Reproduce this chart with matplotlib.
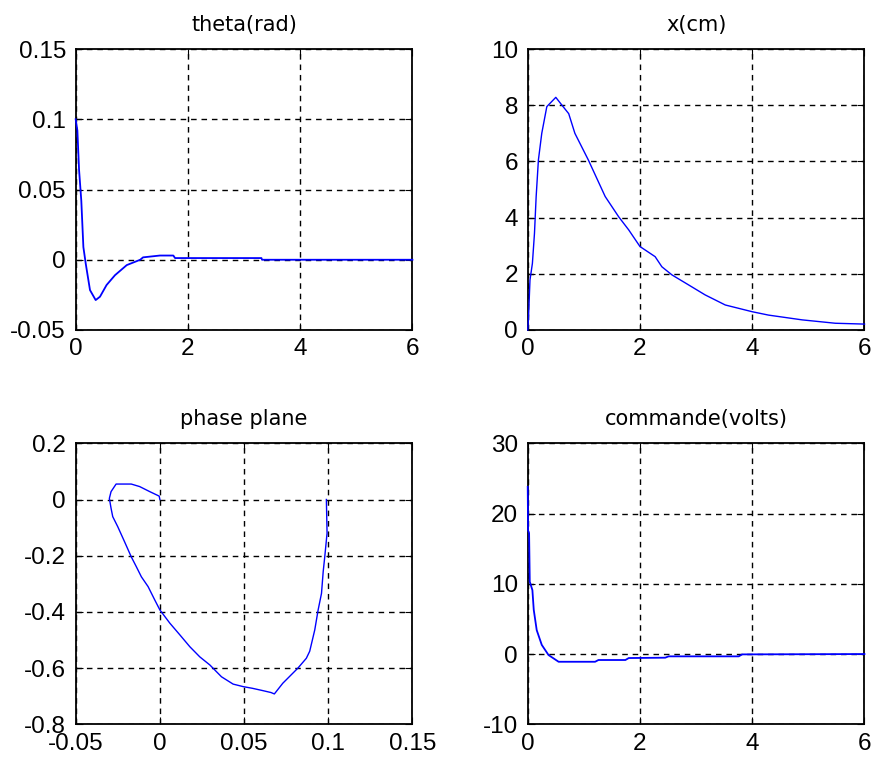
import numpy as np
import matplotlib
matplotlib.use("Agg")
import matplotlib.pyplot as plt

# angle theta (rad) vs time (s)
t_theta = [0, 0.03, 0.06, 0.10, 0.137, 0.18, 0.255, 0.356, 0.433, 0.55, 0.70,
           0.91, 1.15, 1.20, 1.50, 1.74, 1.77, 3.31, 3.32, 6.0]
theta = [0.1, 0.092, 0.064, 0.042, 0.009, -0.003, -0.0216, -0.0287, -0.0263,
         -0.018, -0.011, -0.0038, 0.0, 0.0017, 0.0030, 0.0030, 0.0012, 0.0012,
         0.0, 0.0]

# cart position x (cm) vs time
t_pos = [0, 0.012, 0.04, 0.083, 0.12, 0.15, 0.19, 0.25, 0.34, 0.50, 0.61, 0.73,
         0.84, 1.08, 1.38, 1.62, 1.80, 2.0, 2.27, 2.39, 2.57, 2.87, 3.16, 3.52,
         3.88, 4.0, 4.29, 4.89, 5.48, 6.0]
pos = [0, 0.36, 1.78, 2.37, 3.44, 4.75, 6.05, 7.0, 7.95, 8.28, 8.0, 7.7, 7.0,
       6.05, 4.75, 4.03, 3.56, 2.97, 2.61, 2.25, 1.96, 1.6, 1.25, 0.89, 0.71,
       0.65, 0.53, 0.36, 0.24, 0.21]

# phase plane: theta vs dtheta/dt
ph_theta = [0.0989, 0.0993, 0.098, 0.097, 0.096, 0.094, 0.092, 0.089, 0.087,
            0.082, 0.073, 0.068, 0.066, 0.061, 0.055, 0.0495, 0.0435, 0.0366,
            0.0297, 0.0237, 0.0178, 0.0119, 0.0059, 0.0, -0.003, -0.007, -0.011,
            -0.014, -0.017, -0.021, -0.025, -0.028, -0.029, -0.030, -0.029,
            -0.026, -0.017, -0.012, -0.006, -0.0004, 0.0]
ph_dtheta = [0.0, -0.12, -0.2, -0.257, -0.334, -0.393, -0.464, -0.54, -0.565,
             -0.6, -0.654, -0.692, -0.687, -0.68, -0.672, -0.666, -0.657, -0.631,
             -0.589, -0.56, -0.524, -0.482, -0.44, -0.393, -0.358, -0.31, -0.275,
             -0.239, -0.204, -0.15, -0.097, -0.061, -0.031, 0.004, 0.028, 0.055,
             0.055, 0.046, 0.028, 0.012, 0.0]

# control voltage vs time
t_u = [0, 0.006, 0.024, 0.036, 0.083, 0.107, 0.16, 0.25, 0.37, 0.55, 1.2, 1.26,
       1.74, 1.80, 2.45, 2.51, 3.76, 3.82, 6.0]
u = [23.8, 17.6, 17.2, 10.3, 9.1, 6.3, 3.4, 1.3, -0.14, -1.1, -1.1, -0.85,
     -0.85, -0.57, -0.52, -0.33, -0.33, -0.05, 0.0]

fig = plt.figure(figsize=(8.71, 7.6), dpi=100)

L1, L2, W = 0.0869, 0.6059, 0.3866
B1, B2, H = 0.5658, 0.0470, 0.3697


def setup(ax, title, xlim, ylim, xticks, yticks, xlabels, ylabels):
    ax.set_xlim(xlim)
    ax.set_ylim(ylim)
    ax.set_xticks(xticks)
    ax.set_yticks(yticks)
    ax.set_xticklabels(xlabels, family="Liberation Sans", fontsize=17.5)
    ax.set_yticklabels(ylabels, family="Liberation Sans", fontsize=17.5)
    ax.set_title(title, family="DejaVu Sans", fontsize=15, pad=13)
    ax.tick_params(direction="in", length=5, width=0.8, top=True, right=True)
    ax.tick_params(axis="y", pad=7)
    ax.tick_params(axis="x", pad=6)
    for s in ax.spines.values():
        s.set_linewidth(1.3)
    ax.grid(True, color="black", linestyle=(0, (4, 3.5)), linewidth=1.0)
    ax.set_axisbelow(True)


tt = [0, 2, 4, 6]
tl = ["0", "2", "4", "6"]
blue = "#0000ff"

ax1 = fig.add_axes([L1, B1, W, H])
ax1.plot(t_theta, theta, color=blue, lw=1.3, zorder=3, clip_on=False)
setup(ax1, "theta(rad)", (0, 6), (-0.05, 0.15), tt, [-0.05, 0, 0.05, 0.1, 0.15],
      tl, ["-0.05", "0", "0.05", "0.1", "0.15"])

ax2 = fig.add_axes([L2, B1, W, H])
ax2.plot(t_pos, pos, color=blue, lw=1.0, zorder=3, clip_on=False)
setup(ax2, "x(cm)", (0, 6), (0, 10), tt, [0, 2, 4, 6, 8, 10],
      tl, ["0", "2", "4", "6", "8", "10"])

ax3 = fig.add_axes([L1, B2, W, H])
ax3.plot(ph_theta, ph_dtheta, color=blue, lw=1.0, zorder=3)
setup(ax3, "phase plane", (-0.05, 0.15), (-0.8, 0.2), [-0.05, 0, 0.05, 0.1, 0.15],
      [-0.8, -0.6, -0.4, -0.2, 0, 0.2], ["-0.05", "0", "0.05", "0.1", "0.15"],
      ["-0.8", "-0.6", "-0.4", "-0.2", "0", "0.2"])

ax4 = fig.add_axes([L2, B2, W, H])
ax4.plot(t_u, u, color=blue, lw=1.3, zorder=3, clip_on=False)
setup(ax4, "commande(volts)", (0, 6), (-10, 30), tt, [-10, 0, 10, 20, 30],
      tl, ["-10", "0", "10", "20", "30"])

fig.savefig("out.png", dpi=100)
